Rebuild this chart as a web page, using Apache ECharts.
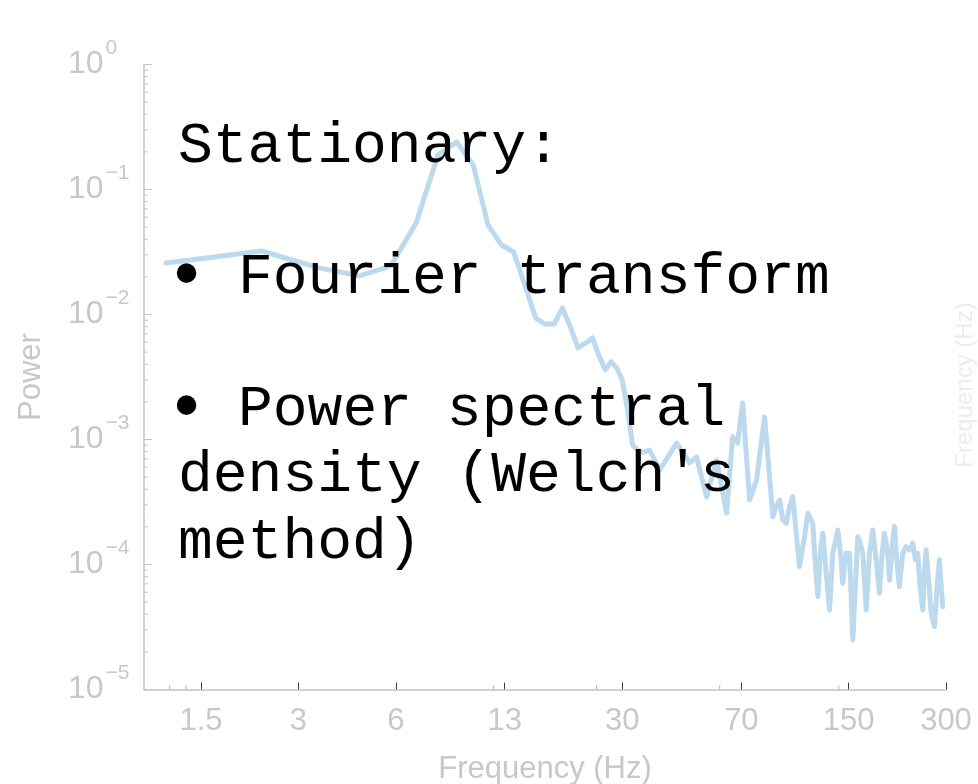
<!DOCTYPE html>
<html>
<head>
<meta charset="utf-8">
<script src="https://cdn.jsdelivr.net/npm/echarts@6/dist/echarts.min.js"></script>
<style>
  html, body { margin: 0; padding: 0; background: #ffffff; }
  #chart { width: 978px; height: 784px; }
</style>
</head>
<body>
<div id="chart"></div>
<script>
// Power spectrum of a stationary signal (Welch estimate), log-log axes.
const freqHz = [
  1.17, 2.31, 3.47, 4.62, 5.78, 6.93, 8.09, 9.24, 10.4, 11.55,
  12.7, 13.86, 15.0, 16.2, 17.3, 18.5, 19.6, 20.8, 21.9, 23.1,
  24.3, 25.4, 26.6, 27.7, 28.9, 30.0, 31.2, 32.3, 33.5, 34.7,
  36.45, 39.14, 44.18, 48.44, 50.9, 54.66, 58.68, 63.02, 65.77, 68.15,
  70.62, 74.21, 77.99, 82.55,
  87.56, 89.7, 91.83, 94.0, 96.3, 98.6, 100.9, 105.8, 109.7, 112.3,
  116.3, 117.8, 120.6, 122.7, 124.9, 128.0, 131.0, 134.1, 139.0, 142.3,
  143.9, 147.5, 151.0, 154.6, 160.2, 164.1, 166.0, 170.1, 174.1, 178.2,
  182.6, 186.9, 190.5, 193.6, 198.3, 200.7, 205.5, 208.0, 211.3, 215.4,
  220.5, 225.9, 231.3, 236.8, 241.4, 245.4, 249.6, 254.3, 257.3, 260.4,
  265.3, 269.9, 276.3, 281.7, 286.3, 293.1
];
const power = [
  0.0258, 0.0322, 0.0236, 0.0204, 0.0244, 0.054, 0.189, 0.24, 0.157, 0.052,
  0.036, 0.0316, 0.0172, 0.0094, 0.0084, 0.0084, 0.0113, 0.0078, 0.0054, 0.0059,
  0.0065, 0.0047, 0.0036, 0.0042, 0.0037, 0.0030, 0.0017, 0.00090, 0.00082, 0.00079,
  0.000824, 0.00057, 0.000937, 0.000649, 0.000724, 0.000347, 0.000686, 0.000258, 0.00105, 0.000937,
  0.00196, 0.000328, 0.000474, 0.00151,
  0.000241, 0.00029, 0.000328, 0.000227, 0.000214, 0.00029, 0.000349, 0.000096, 0.000167, 0.000257,
  0.000214, 0.000123, 0.0000553, 0.000123, 0.000178, 0.000085, 0.0000433, 0.000123, 0.000189, 0.000109,
  0.0000707, 0.000123, 0.000123, 0.0000249, 0.000167, 0.000139, 0.000123, 0.0000433, 0.000123, 0.000189,
  0.000109, 0.0000588, 0.000123, 0.000178, 0.000123, 0.0000752, 0.000157, 0.000201, 0.000109, 0.0000664,
  0.000123, 0.000139, 0.000131, 0.000148, 0.000109, 0.000123, 0.0000664, 0.0000433, 0.000085, 0.000131,
  0.0000752, 0.0000407, 0.0000318, 0.0000664, 0.000109, 0.000046
];

// Axis ticks
const xTickValues = [1.5, 3, 6, 13, 30, 70, 150, 300];
const xMinorTickValues = [1.2, 1.35, 12, 25, 60, 140];
const yDecades = [1e-5, 1e-4, 1e-3, 1e-2, 1e-1];
const yMinorSteps = [2, 3, 4, 5, 6, 7, 8, 9];

const X_MIN = 1, X_MAX = 300;
const Y_MIN = 1e-5, Y_MAX = 1;

const AXIS_GREY = '#c4c4c4';
const LABEL_GREY = '#c8c8c8';
const SANS = '"Liberation Sans", Arial, Helvetica, sans-serif';
const MONO = '"Liberation Mono", "Courier New", monospace';

const yMinorTicks = [];
yDecades.forEach(d => yMinorSteps.forEach(s => yMinorTicks.push([X_MIN, d * s])));
const xMinorTicks = xMinorTickValues.map(f => [f, Y_MIN]);

const chart = echarts.init(document.getElementById('chart'), null, { renderer: 'canvas' });

function supLabel(v) {
  const e = Math.round(Math.log10(v));
  const exp = e < 0 ? '\u2212' + (-e) : String(e);
  return '{b|10}{s|' + exp + '}';
}

// Bulleted overlay text
const textLines = [
  { text: 'Stationary:', x: 178, y: 147, size: 58 },
  { text: '\u2022', x: 165, y: 278, size: 72 },
  { text: 'Fourier transform', x: 238, y: 278, size: 58 },
  { text: '\u2022', x: 165, y: 410, size: 72 },
  { text: 'Power spectral', x: 238, y: 410, size: 58 },
  { text: "density (Welch's", x: 178, y: 476, size: 58 },
  { text: 'method)', x: 178, y: 543, size: 58 }
];

const option = {
  animation: false,
  backgroundColor: '#ffffff',
  grid: {
    left: 144, right: 32, top: 64.5, bottom: 94.5,
    containLabel: false,
    outerBoundsMode: 'none'
  },
  xAxis: {
    type: 'log',
    logBase: 10,
    min: X_MIN,
    max: X_MAX,
    name: 'Frequency (Hz)',
    nameLocation: 'middle',
    nameGap: 64,
    nameTextStyle: { color: LABEL_GREY, fontSize: 31, fontFamily: SANS },
    axisLine: { show: true, lineStyle: { color: AXIS_GREY, width: 1.5 } },
    axisTick: {
      show: true, inside: true, length: 7,
      customValues: xTickValues,
      lineStyle: { color: '#3a3a3a', width: 1 }
    },
    axisLabel: {
      show: true,
      customValues: xTickValues,
      margin: 16,
      color: LABEL_GREY,
      fontSize: 31,
      fontFamily: SANS,
      formatter: v => String(+(+v).toPrecision(3))
    },
    splitLine: { show: false },
    minorTick: { show: false }
  },
  yAxis: {
    type: 'log',
    logBase: 10,
    min: Y_MIN,
    max: Y_MAX,
    interval: 1,
    name: 'Power',
    nameLocation: 'middle',
    nameGap: 97,
    nameTextStyle: { color: LABEL_GREY, fontSize: 31, fontFamily: SANS },
    axisLine: { show: true, lineStyle: { color: AXIS_GREY, width: 1.5 } },
    axisTick: { show: true, inside: true, length: 8, lineStyle: { color: AXIS_GREY, width: 1 } },
    axisLabel: {
      show: true,
      margin: 76,
      align: 'left',
      formatter: supLabel,
      rich: {
        b: { fontSize: 32, lineHeight: 32, color: LABEL_GREY, fontFamily: SANS },
        s: { fontSize: 21, lineHeight: 21, color: LABEL_GREY, fontFamily: SANS, padding: [0, 0, 32, 2] }
      }
    },
    splitLine: { show: false }
  },
  series: [
    {
      name: 'PSD',
      type: 'line',
      data: freqHz.map((f, i) => [f, power[i]]),
      showSymbol: false,
      symbol: 'none',
      smooth: false,
      lineStyle: { color: '#bcd9ee', width: 5, cap: 'round', join: 'round' },
      z: 2,
      silent: true
    },
    {
      name: 'yMinorTicks',
      type: 'custom',
      data: yMinorTicks,
      silent: true,
      clip: false,
      z: 3,
      renderItem: (params, api) => {
        const p = api.coord([api.value(0), api.value(1)]);
        return {
          type: 'line',
          shape: { x1: p[0], y1: p[1], x2: p[0] + 4, y2: p[1] },
          style: { stroke: AXIS_GREY, lineWidth: 1 }
        };
      }
    },
    {
      name: 'xMinorTicks',
      type: 'custom',
      data: xMinorTicks,
      silent: true,
      clip: false,
      z: 3,
      renderItem: (params, api) => {
        const p = api.coord([api.value(0), api.value(1)]);
        return {
          type: 'line',
          shape: { x1: p[0], y1: p[1], x2: p[0], y2: p[1] - 4 },
          style: { stroke: '#b0b0b0', lineWidth: 1 }
        };
      }
    }
  ],
  graphic: [
    {
      type: 'text',
      x: 965, y: 385,
      rotation: Math.PI / 2,
      silent: true,
      style: {
        text: 'Frequency (Hz)',
        fill: '#ececec',
        font: '24px ' + SANS,
        textAlign: 'center',
        textVerticalAlign: 'middle'
      }
    }
  ].concat(textLines.map(t => ({
    type: 'text',
    x: t.x, y: t.y,
    silent: true,
    z: 10,
    style: {
      text: t.text,
      fill: '#000000',
      font: t.size + 'px ' + MONO,
      textAlign: 'left',
      textVerticalAlign: 'middle'
    }
  })))
};

chart.setOption(option);
</script>
</body>
</html>
